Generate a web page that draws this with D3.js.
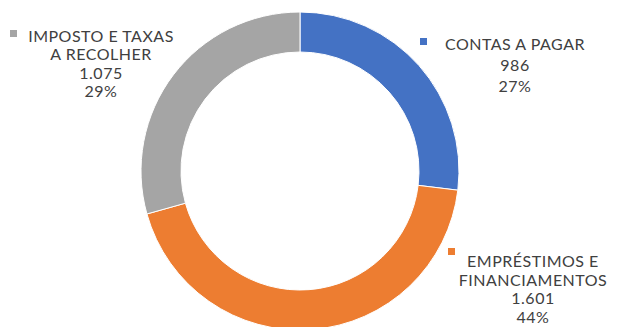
<!DOCTYPE html>
<html>
<head>
<meta charset="utf-8">
<script src="https://cdn.jsdelivr.net/npm/d3@7"></script>
<style>
  html, body { margin: 0; padding: 0; background: #fff; }
  svg { display: block; }
  text { font-family: Lato, "Open Sans", sans-serif; fill: #404040; }
</style>
</head>
<body>
<svg id="chart" width="619" height="327"></svg>
<script>
// ---- data ----
const categories = ["CONTAS A PAGAR", "EMPRÉSTIMOS E FINANCIAMENTOS", "IMPOSTO E TAXAS A RECOLHER"];
const labelLines = [["CONTAS A PAGAR"], ["EMPRÉSTIMOS E", "FINANCIAMENTOS"], ["IMPOSTO E TAXAS", "A RECOLHER"]];
const values = [986, 1601, 1075];
const valueLabels = ["986", "1.601", "1.075"];
const percentLabels = ["27%", "44%", "29%"];
const colors = ["#4472C4", "#ED7D31", "#A5A5A5"];

// ---- layout ----
const svg = d3.select("#chart");
const cx = 300, cy = 171, outerR = 159, innerR = 119;

const pie = d3.pie().sort(null).value(d => d);
const arc = d3.arc().innerRadius(innerR).outerRadius(outerR);

const g = svg.append("g").attr("transform", `translate(${cx},${cy})`);
g.selectAll("path")
  .data(pie(values))
  .join("path")
  .attr("d", arc)
  .attr("fill", (d, i) => colors[i])
  .attr("stroke", "#fff")
  .attr("stroke-width", 1);

// label placement (layout only)
const labelPos = [
  { x: 515, y: 50, dy: 21, sqX: 420, sqY: 38 },
  { x: 533, y: 267, dy: 18.5, sqX: 448, sqY: 248 },
  { x: 101, y: 42, dy: 18.3, sqX: 10, sqY: 30 }
];
const fontSize = 16;

categories.forEach((c, i) => {
  const p = labelPos[i];
  const lines = labelLines[i].concat([valueLabels[i], percentLabels[i]]);
  const lg = svg.append("g");
  lg.append("rect")
    .attr("x", p.sqX).attr("y", p.sqY)
    .attr("width", 7).attr("height", 7)
    .attr("fill", colors[i]);
  lines.forEach((t, j) => {
    lg.append("text")
      .attr("x", p.x)
      .attr("y", p.y + j * p.dy)
      .attr("text-anchor", "middle")
      .attr("font-size", fontSize)
      .attr("letter-spacing", 0.5)
      .text(t);
  });
});
</script>
</body>
</html>
